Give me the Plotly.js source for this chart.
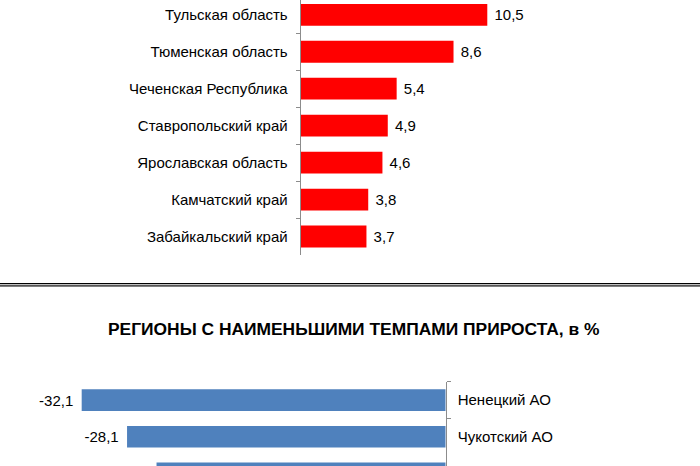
<!DOCTYPE html>
<html>
<head>
<meta charset="utf-8">
<script src="https://cdn.plot.ly/plotly-3.0.1.min.js"></script>
<style>body{margin:0;background:#fff}</style>
</head>
<body>
<div id="myDiv" style="width:700px;height:466px"></div>
<script>
// регионы с наибольшими темпами прироста (верх списка обрезан)
var topRegions = ["Тульская область","Тюменская область","Чеченская Республика","Ставропольский край","Ярославская область","Камчатский край","Забайкальский край"];
var topValues = [10.5,8.6,5.4,4.9,4.6,3.8,3.7];

// регионы с наименьшими темпами прироста (низ обрезан)
var lowRegions = ["Ненецкий АО","Чукотский АО","Регион 3"];
var lowValues = [-32.1,-28.1,-25.5];
var lowShown = 2; // подписи видны только у первых двух

function fmt(v){ return v.toFixed(1).replace('.', ','); }

var labelFont = {family: 'Liberation Sans, Arial, sans-serif', size: 15, color: '#000'};

var topBars = {
  type: 'bar', orientation: 'h',
  x: topValues, y: topRegions,
  xaxis: 'x', yaxis: 'y',
  marker: {color: '#ff0000'},
  text: topValues.map(function(v){ return '\u00a0' + fmt(v); }),
  textposition: 'outside', textfont: labelFont,
  cliponaxis: false, hoverinfo: 'none'
};

var lowBars = {
  type: 'bar', orientation: 'h',
  x: lowValues, y: lowRegions,
  xaxis: 'x2', yaxis: 'y2',
  marker: {color: '#4f81bd'},
  text: lowValues.map(function(v, i){ return i < lowShown ? fmt(v) + '\u00a0\u200a' : ''; }),
  textposition: 'outside', textfont: labelFont,
  hoverinfo: 'none'
};

var data = [topBars, lowBars];

var layout = {
  width: 700, height: 466,
  margin: {l: 0, r: 0, t: 0, b: 0},
  paper_bgcolor: '#fff', plot_bgcolor: 'rgba(0,0,0,0)',
  showlegend: false,
  bargap: 0.41,
  font: labelFont,
  xaxis: {domain: [300.7/700, 1], range: [0, 399.3/17.77], visible: false, anchor: 'y'},
  yaxis: {
    domain: [1 - 255/466, 1], anchor: 'x',
    type: 'category', range: [6.5, -0.4],
    showline: true, linecolor: '#8c8c8c', linewidth: 1,
    ticks: 'outside', tickson: 'boundaries', ticklen: 4, tickwidth: 1, tickcolor: '#8c8c8c',
    ticklabelstandoff: 9,
    showgrid: false, zeroline: false, tickfont: labelFont
  },
  xaxis2: {domain: [0, 445.7/700], range: [-445.7/11.34, 0], visible: false, anchor: 'y2'},
  yaxis2: {
    domain: [0, 1 - 381.7/466], anchor: 'x2', side: 'right',
    type: 'category', range: [1.797, -0.5],
    showline: true, linecolor: '#8c8c8c', linewidth: 1,
    ticks: 'outside', tickson: 'boundaries', ticklen: 4, tickwidth: 1, tickcolor: '#8c8c8c',
    ticklabelstandoff: 8,
    showgrid: false, zeroline: false, tickfont: labelFont
  },
  shapes: [
    {type: 'line', xref: 'paper', yref: 'paper', x0: 0, x1: 1, y0: 1 - 283.7/466, y1: 1 - 283.7/466, line: {color: '#000', width: 1.3}},
    {type: 'line', xref: 'paper', yref: 'paper', x0: 0, x1: 1, y0: 1 - 285.9/466, y1: 1 - 285.9/466, line: {color: '#555', width: 1.7}}
  ],
  annotations: [{
    text: '<b>РЕГИОНЫ С НАИМЕНЬШИМИ ТЕМПАМИ ПРИРОСТА, в %</b>',
    xref: 'paper', yref: 'paper', x: 353.5/700, y: 1 - 329/466,
    xanchor: 'center', yanchor: 'middle', showarrow: false,
    font: {family: 'Liberation Sans, Arial, sans-serif', size: 17.4, color: '#000'}
  }]
};

Plotly.newPlot('myDiv', data, layout, {staticPlot: true});
</script>
</body>
</html>
